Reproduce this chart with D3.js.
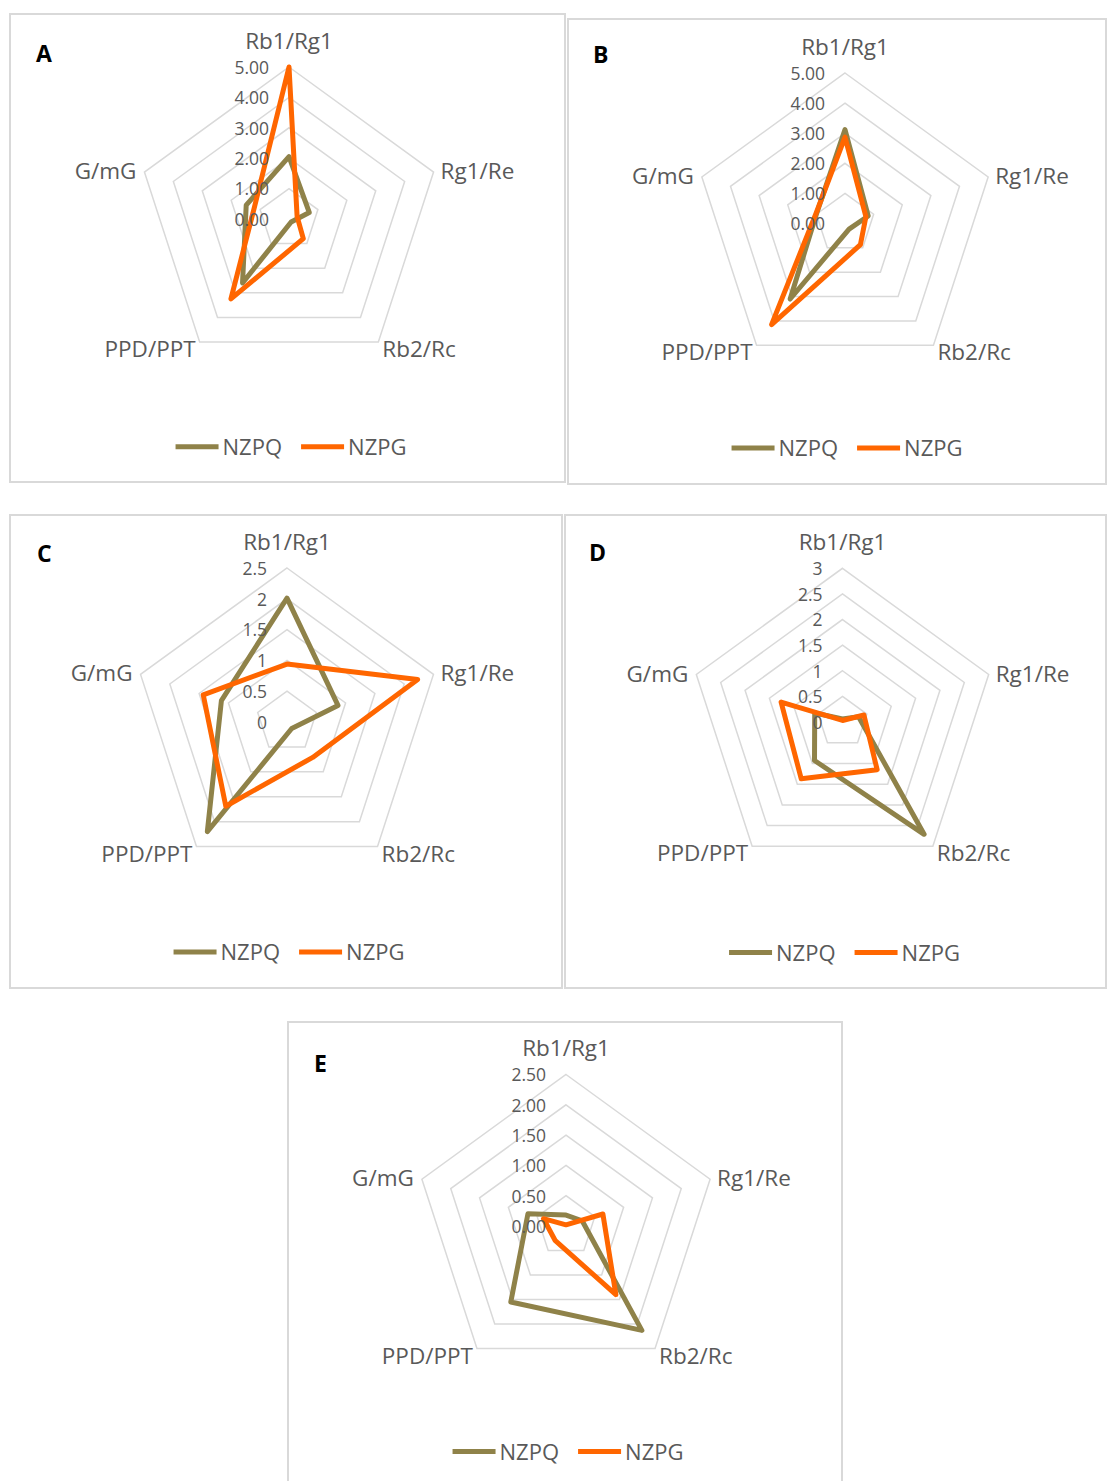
<!DOCTYPE html>
<html>
<head>
<meta charset="utf-8">
<script src="https://cdn.jsdelivr.net/npm/d3@7/dist/d3.min.js"></script>
<style>
  html, body { margin: 0; padding: 0; background: #ffffff; }
  svg { display: block; }
  text { font-family: "Open Sans", "Noto Sans", sans-serif; }
</style>
</head>
<body>
<svg id="chart" width="1108" height="1481"></svg>
<script>
// ---------------- data ----------------
const categories = ["Rb1/Rg1", "Rg1/Re", "Rb2/Rc", "PPD/PPT", "G/mG"];
const seriesNames = ["NZPQ", "NZPG"];
const panelLetters = ["A", "B", "C", "D", "E"];

const nzpqA = [2.05, 0.70, 0.12, 2.60, 1.48];
const nzpgA = [5.00, 0.28, 0.80, 3.25, 1.20];
const nzpqB = [3.12, 0.81, 0.23, 3.10, 1.00];
const nzpgB = [2.87, 0.73, 0.87, 4.15, 1.02];
const nzpqC = [2.01, 0.87, 0.13, 2.20, 1.12];
const nzpgC = [0.94, 2.23, 0.71, 1.69, 1.43];
const nzpqD = [0.06, 0.33, 2.71, 0.93, 0.57];
const nzpgD = [0.03, 0.44, 1.15, 1.37, 1.26];
const nzpqE = [0.18, 0.28, 2.13, 1.55, 0.66];
const nzpgE = [0.02, 0.64, 1.40, 0.30, 0.39];

const ticksA = [0, 1, 2, 3, 4, 5];
const ticksB = [0, 1, 2, 3, 4, 5];
const ticksC = [0, 0.5, 1, 1.5, 2, 2.5];
const ticksD = [0, 0.5, 1, 1.5, 2, 2.5, 3];
const ticksE = [0, 0.5, 1, 1.5, 2, 2.5];

const tickLabelsA = ["0.00", "1.00", "2.00", "3.00", "4.00", "5.00"];
const tickLabelsB = ["0.00", "1.00", "2.00", "3.00", "4.00", "5.00"];
const tickLabelsC = ["0", "0.5", "1", "1.5", "2", "2.5"];
const tickLabelsD = ["0", "0.5", "1", "1.5", "2", "2.5", "3"];
const tickLabelsE = ["0.00", "0.50", "1.00", "1.50", "2.00", "2.50"];

// ---------------- layout (positions / styles) ----------------
const layout = [
  { frame: [10, 14, 565, 482], closed: true, cx: 289, cy: 219, R: 152, letter: [36, 62], legendY: 446.7 },
  { frame: [568, 19, 1106, 484], closed: true, cx: 845, cy: 223.5, R: 150.5, letter: [593, 63], legendY: 448 },
  { frame: [10, 515, 562, 988], closed: true, cx: 287, cy: 722, R: 154, letter: [37, 562], legendY: 952 },
  { frame: [565, 515, 1106, 988], closed: true, cx: 842.5, cy: 722, R: 153.7, letter: [589, 561], legendY: 952.5 },
  { frame: [288, 1022, 842, 1490], closed: false, cx: 566, cy: 1226, R: 151.5, letter: [314, 1072], legendY: 1451.5 }
];

const panelsData = [
  { series: [nzpqA, nzpgA], ticks: ticksA, tickLabels: tickLabelsA },
  { series: [nzpqB, nzpgB], ticks: ticksB, tickLabels: tickLabelsB },
  { series: [nzpqC, nzpgC], ticks: ticksC, tickLabels: tickLabelsC },
  { series: [nzpqD, nzpgD], ticks: ticksD, tickLabels: tickLabelsD },
  { series: [nzpqE, nzpgE], ticks: ticksE, tickLabels: tickLabelsE }
];

const colors = d3.scaleOrdinal().domain(seriesNames).range(["#8F8249", "#FF6600"]);
const textColor = "#595959";
const gridColor = "#D9D9D9";
const frameColor = "#D9D9D9";

const svg = d3.select("#chart");
const angle = d3.scaleLinear().domain([0, categories.length]).range([0, 2 * Math.PI]);

panelsData.forEach((pd, p) => {
  const L = layout[p];
  const g = svg.append("g");

  // frame
  const [x0, y0, x1, y1] = L.frame;
  const framePath = L.closed
    ? `M${x0},${y0}H${x1}V${y1}H${x0}Z`
    : `M${x0},${y1}V${y0}H${x1}V${y1}`;
  g.append("path").attr("d", framePath).attr("fill", "none")
    .attr("stroke", frameColor).attr("stroke-width", 2);

  // panel letter
  g.append("text").attr("x", L.letter[0]).attr("y", L.letter[1])
    .attr("font-size", 23).attr("font-weight", "bold").attr("fill", "#000")
    .text(panelLetters[p]);

  const maxT = d3.max(pd.ticks);
  const r = d3.scaleLinear().domain([0, maxT]).range([0, L.R]);

  const plot = g.append("g").attr("transform", `translate(${L.cx},${L.cy})`);

  const radial = d3.lineRadial()
    .angle((d, i) => angle(i))
    .radius(d => r(d))
    .curve(d3.curveLinearClosed);

  // grid pentagons
  pd.ticks.filter(t => t > 0).forEach(t => {
    plot.append("path")
      .attr("d", radial(categories.map(() => t)))
      .attr("fill", "none").attr("stroke", gridColor).attr("stroke-width", 1.5);
  });

  // series
  pd.series.forEach((vals, s) => {
    plot.append("path")
      .attr("d", radial(vals))
      .attr("fill", "none")
      .attr("stroke", colors(seriesNames[s]))
      .attr("stroke-width", 5)
      .attr("stroke-linejoin", "round");
  });

  // tick labels
  pd.ticks.forEach((t, i) => {
    plot.append("text")
      .attr("x", -20).attr("y", -r(t) + 6.8)
      .attr("text-anchor", "end")
      .attr("font-size", 17.5).attr("fill", textColor)
      .text(pd.tickLabels[i]);
  });

  // category labels
  categories.forEach((c, i) => {
    const a = angle(i);
    const vx = Math.sin(a) * r(maxT);
    const vy = -Math.cos(a) * r(maxT);
    let x = vx, y = vy, anchor = "middle";
    if (i === 0) { y = vy - 18.5; }
    else if (i === 1) { x = vx + 7; y = vy + 7; anchor = "start"; }
    else if (i === 2) { x = vx + 4; y = vy + 15; anchor = "start"; }
    else if (i === 3) { x = vx - 4; y = vy + 15; anchor = "end"; }
    else { x = vx - 8; y = vy + 7; anchor = "end"; }
    plot.append("text")
      .attr("x", x).attr("y", y).attr("text-anchor", anchor)
      .attr("font-size", 22.5).attr("fill", textColor)
      .text(c);
  });

  // legend
  const leg = g.append("g");
  const items = seriesNames.map(n => {
    const gi = leg.append("g");
    gi.append("line").attr("x1", 0).attr("x2", 43).attr("y1", 0).attr("y2", 0)
      .attr("stroke", colors(n)).attr("stroke-width", 5);
    const t = gi.append("text").attr("x", 47).attr("y", 8)
      .attr("font-size", 22).attr("fill", textColor).text(n);
    return { gi, w: 47 + t.node().getComputedTextLength() };
  });
  const gap = 19;
  const total = d3.sum(items, d => d.w) + gap * (items.length - 1);
  let xx = L.cx + 2 - total / 2;
  items.forEach(it => {
    it.gi.attr("transform", `translate(${xx},${L.legendY})`);
    xx += it.w + gap;
  });
});
</script>
</body>
</html>
